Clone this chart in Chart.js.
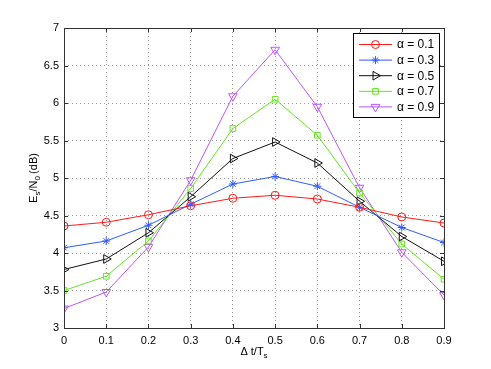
<!DOCTYPE html>
<html>
<head>
<meta charset="utf-8">
<script src="https://cdn.jsdelivr.net/npm/chart.js@4.4.0/dist/chart.umd.min.js"></script>
<style>
  html, body { margin: 0; padding: 0; background: #fff; }
  #wrap { width: 491px; height: 369px; }
</style>
</head>
<body>
<div id="wrap"><canvas id="chart"></canvas></div>
<script>
// data
const deltaT = [0, 0.1, 0.2, 0.3, 0.4, 0.5, 0.6, 0.7, 0.8, 0.9];
const alpha01 = [4.36, 4.41, 4.51, 4.63, 4.73, 4.77, 4.72, 4.61, 4.48, 4.40];
const alpha03 = [4.07, 4.16, 4.37, 4.65, 4.92, 5.02, 4.89, 4.61, 4.34, 4.14];
const alpha05 = [3.78, 3.92, 4.27, 4.75, 5.26, 5.48, 5.20, 4.69, 4.22, 3.89];
const alpha07 = [3.50, 3.69, 4.16, 4.86, 5.66, 6.05, 5.57, 4.80, 4.12, 3.65];
const alpha09 = [3.26, 3.48, 4.08, 4.97, 6.09, 6.71, 5.95, 4.87, 4.01, 3.44];
const seriesLabels = ['α = 0.1', 'α = 0.3', 'α = 0.5', 'α = 0.7', 'α = 0.9'];
const yTicks = [3, 3.5, 4, 4.5, 5, 5.5, 6, 6.5, 7];

const FONT = 'Liberation Sans, Arial, sans-serif';

function pts(arr) {
    return arr.map(function (v, i) { return { x: deltaT[i], y: v }; });
}

function makeSet(label, values, color, style, radius, rotation) {
    return {
        label: label,
        data: pts(values),
        borderColor: color,
        backgroundColor: 'rgba(0,0,0,0)',
        borderWidth: 1,
        pointStyle: style,
        pointRadius: radius,
        pointRotation: rotation,
        pointBorderColor: color,
        pointBackgroundColor: 'rgba(0,0,0,0)',
        pointBorderWidth: 1,
        tension: 0
    };
}

// inward ticks, box and axis titles, MATLAB style
const framePlugin = {
    id: 'frame',
    afterDraw: function (chart) {
        const c = chart.ctx;
        const a = chart.chartArea;
        const xs = chart.scales.x, ys = chart.scales.y;
        c.save();
        c.strokeStyle = '#333';
        c.lineWidth = 1;
        c.strokeRect(Math.round(a.left) + 0.5, Math.round(a.top) + 0.5,
            Math.round(a.right - a.left), Math.round(a.bottom - a.top));
        c.beginPath();
        deltaT.forEach(function (v) {
            const px = Math.round(xs.getPixelForValue(v)) + 0.5;
            c.moveTo(px, a.bottom); c.lineTo(px, a.bottom - 4);
            c.moveTo(px, a.top); c.lineTo(px, a.top + 4);
        });
        yTicks.forEach(function (v) {
            const py = Math.round(ys.getPixelForValue(v)) + 0.5;
            c.moveTo(a.left, py); c.lineTo(a.left + 4, py);
            c.moveTo(a.right, py); c.lineTo(a.right - 4, py);
        });
        c.stroke();

        // x title: Δ t/T_s
        c.fillStyle = '#000';
        c.textBaseline = 'alphabetic';
        const main = '11px ' + FONT, sub = '8px ' + FONT;
        let parts = [['Δ t/T', main, 0], ['s', sub, 3]];
        let w = 0;
        parts.forEach(function (p) { c.font = p[1]; w += c.measureText(p[0]).width; });
        let x = (a.left + a.right) / 2 - w / 2;
        const yBase = 355;
        parts.forEach(function (p) {
            c.font = p[1]; c.fillText(p[0], x, yBase + p[2]); x += c.measureText(p[0]).width;
        });

        // y title: E_s/N_0 (dB)
        parts = [['E', main, 0], ['s', sub, 3], ['/N', main, 0], ['0', sub, 3], ['\u2009(dB)', main, 0]];
        w = 0;
        parts.forEach(function (p) { c.font = p[1]; w += c.measureText(p[0]).width; });
        c.translate(37, (a.top + a.bottom) / 2);
        c.rotate(-Math.PI / 2);
        x = -w / 2;
        parts.forEach(function (p) {
            c.font = p[1]; c.fillText(p[0], x, p[2]); x += c.measureText(p[0]).width;
        });
        c.restore();

        // legend box inside the axes
        c.save();
        const lx = 353, ly = 33, lw = 86, lh = 84;
        c.fillStyle = '#fff';
        c.fillRect(lx, ly, lw, lh);
        c.strokeStyle = '#000';
        c.strokeRect(lx + 0.5, ly + 0.5, lw, lh);
        chart.data.datasets.forEach(function (ds, i) {
            const ry = ly + 11.5 + i * 15.6;
            c.strokeStyle = ds.borderColor;
            c.lineWidth = 1;
            c.beginPath();
            c.moveTo(lx + 6, ry); c.lineTo(lx + 39, ry);
            c.stroke();
            c.fillStyle = 'rgba(0,0,0,0)';
            Chart.helpers.drawPoint(c, {
                pointStyle: ds.pointStyle, radius: ds.pointRadius,
                rotation: ds.pointRotation, borderWidth: 1
            }, lx + 22.5, ry);
            c.fillStyle = '#000';
            c.font = '12px ' + FONT;
            c.textBaseline = 'middle';
            c.fillText(ds.label, lx + 44, ry + 0.5);
        });
        c.restore();
    }
};

new Chart(document.getElementById('chart'), {
    type: 'line',
    data: {
        datasets: [
            makeSet(seriesLabels[0], alpha01, '#ff1a1a', 'circle', 4, 0),
            makeSet(seriesLabels[1], alpha03, '#2f5cff', 'star', 4, 0),
            makeSet(seriesLabels[2], alpha05, '#111111', 'triangle', 5, 90),
            makeSet(seriesLabels[3], alpha07, '#66e51f', 'rect', 4, 0),
            makeSet(seriesLabels[4], alpha09, '#bb55ff', 'triangle', 5, 180)
        ]
    },
    options: {
        responsive: true,
        maintainAspectRatio: false,
        animation: false,
        layout: { padding: { top: 28, right: 47, left: 0, bottom: 0 } },
        plugins: {
            legend: { display: false },
            tooltip: { enabled: false }
        },
        scales: {
            x: {
                type: 'linear',
                min: 0,
                max: 0.9,
                afterFit: function (s) { s.height = 41; },
                afterBuildTicks: function (s) { s.ticks = deltaT.map(function (v) { return { value: v }; }); },
                ticks: {
                    color: '#000',
                    font: { family: FONT, size: 11 },
                    padding: 6,
                    maxRotation: 0,
                    callback: function (v) { return String(Math.round(v * 10) / 10); }
                },
                grid: { color: '#9a9a9a', drawTicks: false, lineWidth: 1 },
                border: { display: false, dash: [1, 3] }
            },
            y: {
                min: 3,
                max: 7,
                afterFit: function (s) { s.width = 64; },
                afterBuildTicks: function (s) { s.ticks = yTicks.map(function (v) { return { value: v }; }); },
                ticks: {
                    color: '#000',
                    font: { family: FONT, size: 11 },
                    padding: 5,
                    callback: function (v) { return String(v); }
                },
                grid: { color: '#9a9a9a', drawTicks: false, lineWidth: 1 },
                border: { display: false, dash: [1, 3] }
            }
        }
    },
    plugins: [framePlugin]
});
</script>
</body>
</html>
